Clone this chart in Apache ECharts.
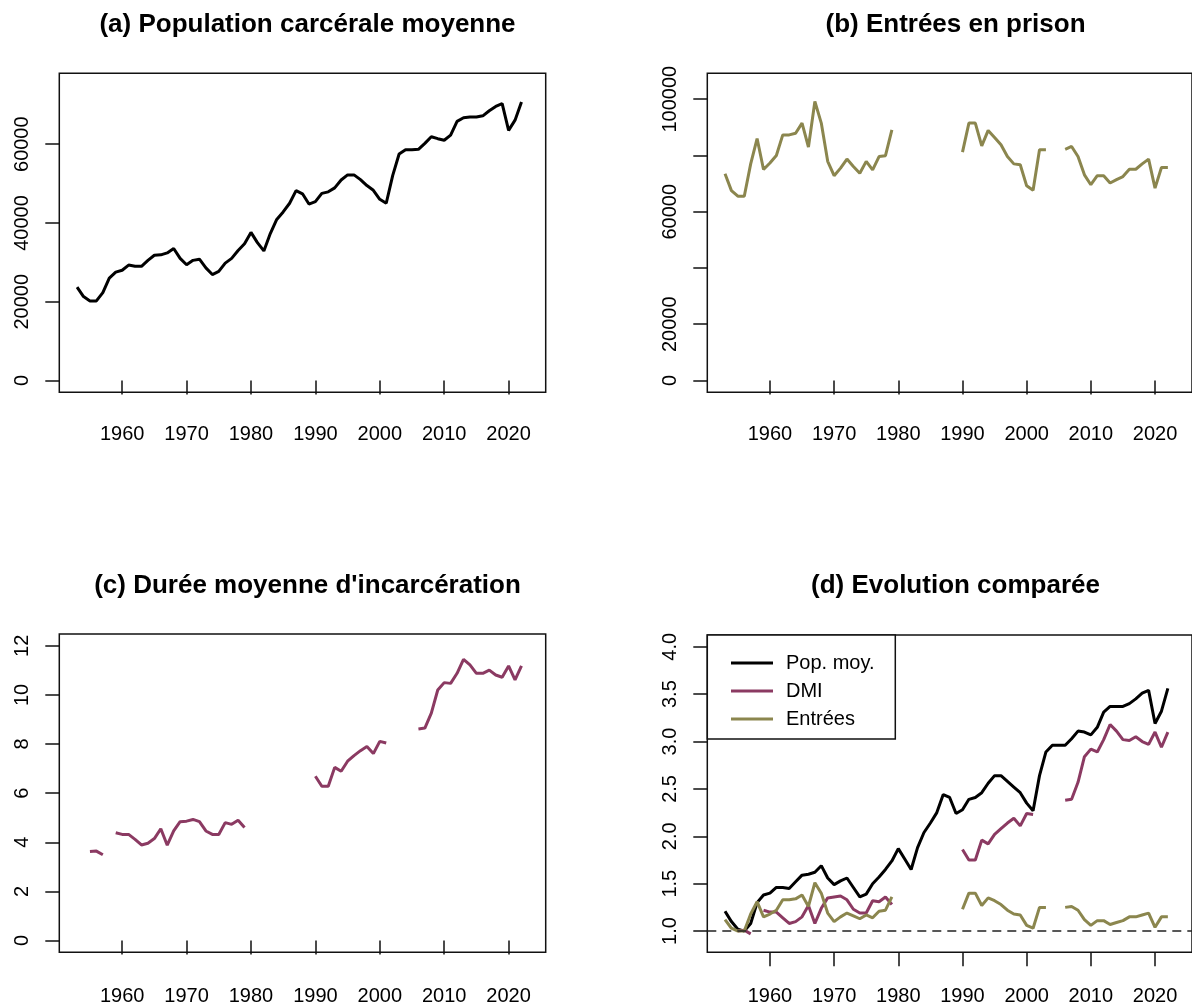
<!DOCTYPE html>
<html>
<head>
<meta charset="utf-8">
<script src="https://cdn.jsdelivr.net/npm/echarts@6/dist/echarts.min.js"></script>
<style>
  html, body { margin: 0; padding: 0; background: #fff; }
  #grafico { width: 1192px; height: 1007px; }
</style>
</head>
<body>
<div id="grafico"></div>
<script>
// annees 1953-2022
const years = [
  1953, 1954, 1955, 1956, 1957, 1958, 1959,
  1960, 1961, 1962, 1963, 1964, 1965, 1966, 1967, 1968, 1969,
  1970, 1971, 1972, 1973, 1974, 1975, 1976, 1977, 1978, 1979,
  1980, 1981, 1982, 1983, 1984, 1985, 1986, 1987, 1988, 1989,
  1990, 1991, 1992, 1993, 1994, 1995, 1996, 1997, 1998, 1999,
  2000, 2001, 2002, 2003, 2004, 2005, 2006, 2007, 2008, 2009,
  2010, 2011, 2012, 2013, 2014, 2015, 2016, 2017, 2018, 2019,
  2020, 2021, 2022
]

// (a) population carcerale moyenne
const popMoy = [
  23700, 21300, 20200, 20200, 22300, 26000, 27500,
  28000, 29300, 29000, 29000, 30500, 31800, 31900, 32400, 33500, 31000,
  29400, 30500, 30800, 28600, 26900, 27700, 29800, 31000, 33000, 34700,
  37600, 35000, 32900, 37300, 40900, 42800, 45000, 48200, 47400, 44800,
  45400, 47500, 47900, 48900, 50900, 52200, 52200, 51000, 49500, 48300,
  46000, 45000, 52000, 57500, 58600, 58600, 58700, 60200, 61900, 61400,
  61000, 62300, 65800, 66700, 66900, 66900, 67200, 68500, 69600, 70300,
  63500, 66100, 70700
]

// (b) entrees en prison
const entrees = [
  73500, 67500, 65500, 65500, 77000, 86000, 75000,
  77300, 80000, 87300, 87300, 87900, 91500, 83000, 99200, 91500, 77900,
  72800, 75500, 78700, 76100, 73700, 77900, 74900, 79600, 79900, 89100,
  null, null, null, null, null, null, null, null, null, null,
  81200, 91500, 91500, 83400, 88900, 86400, 83800, 79600, 77000, 76700,
  69200, 67600, 82000, 82000, null, null, 82200, 83200, 79600, 73100,
  69600, 72800, 72800, 70200, 71400, 72500, 75100, 75100, 77000, 78700,
  68400, 75700, 75700
]

// (c) duree moyenne d'incarceration (mois)
const dmi = [
  null, null, 3.62, 3.64, 3.49, null, 4.39,
  4.32, 4.32, 4.12, 3.89, 3.96, 4.15, 4.55, 3.88, 4.46, 4.84,
  4.86, 4.93, 4.84, 4.46, 4.32, 4.32, 4.80, 4.73, 4.90, 4.60,
  null, null, null, null, null, null, null, null, null, null,
  6.69, 6.28, 6.28, 7.05, 6.89, 7.30, 7.53, 7.73, 7.90, 7.61,
  8.11, 8.04, null, null, null, null, 8.61, 8.65, 9.26, 10.20,
  10.50, 10.47, 10.88, 11.45, 11.22, 10.88, 10.88, 11.01, 10.81, 10.72,
  11.18, 10.61, 11.18
]

// (d) indices
const popIdx = [
  1.21, 1.10, 1.02, 1.00, 1.08, 1.30, 1.38,
  1.40, 1.46, 1.46, 1.45, 1.52, 1.59, 1.60, 1.62, 1.69, 1.56,
  1.49, 1.53, 1.56, 1.46, 1.36, 1.39, 1.50, 1.57, 1.65, 1.74,
  1.87, 1.76, 1.65, 1.88, 2.04, 2.14, 2.25, 2.44, 2.41, 2.24,
  2.28, 2.39, 2.41, 2.46, 2.56, 2.64, 2.64, 2.58, 2.52, 2.46,
  2.35, 2.27, 2.64, 2.89, 2.96, 2.96, 2.96, 3.03, 3.11, 3.10,
  3.07, 3.15, 3.31, 3.37, 3.37, 3.37, 3.40, 3.45, 3.51, 3.54,
  3.19, 3.32, 3.56
]
const dmiIdx = [
  null, null, 1.00, 1.01, 0.97, null, 1.22,
  1.20, 1.20, 1.14, 1.08, 1.10, 1.15, 1.27, 1.08, 1.24, 1.35,
  1.36, 1.37, 1.33, 1.23, 1.19, 1.19, 1.32, 1.31, 1.36, 1.28,
  null, null, null, null, null, null, null, null, null, null,
  1.86, 1.75, 1.75, 1.96, 1.92, 2.02, 2.08, 2.14, 2.19, 2.11,
  2.24, 2.23, null, null, null, null, 2.38, 2.39, 2.57, 2.84,
  2.92, 2.89, 3.02, 3.18, 3.11, 3.02, 3.01, 3.05, 3.00, 2.97,
  3.10, 2.94, 3.10
]
const entIdx = [
  1.12, 1.03, 1.00, 1.00, 1.18, 1.31, 1.15,
  1.18, 1.22, 1.33, 1.33, 1.34, 1.38, 1.26, 1.51, 1.40, 1.19,
  1.10, 1.15, 1.19, 1.16, 1.13, 1.17, 1.14, 1.21, 1.22, 1.36,
  null, null, null, null, null, null, null, null, null, null,
  1.23, 1.40, 1.40, 1.27, 1.35, 1.32, 1.28, 1.22, 1.18, 1.17,
  1.06, 1.03, 1.25, 1.25, null, null, 1.25, 1.26, 1.22, 1.12,
  1.06, 1.11, 1.11, 1.07, 1.09, 1.11, 1.15, 1.15, 1.17, 1.19,
  1.04, 1.15, 1.15
]

const xTicks = [1960, 1970, 1980, 1990, 2000, 2010, 2020]
const titles = [
  '(a) Population carcérale moyenne',
  '(b) Entrées en prison',
  "(c) Durée moyenne d'incarcération",
  '(d) Evolution comparée'
]

const FONT = "'Liberation Sans', Arial, sans-serif"
const NOIR = '#000000'
const ROSE = '#8B3A62'
const KAKI = '#8B864E'

const pairs = arr => years.map((y, i) => [y, arr[i]])

// positions des 4 cadres (pixels)
const cadres = [
  { left: 59.3, top: 73.3, height: 319 },
  { left: 707.3, top: 73.3, height: 319 },
  { left: 59.3, top: 634, height: 318.3 },
  { left: 707.3, top: 635, height: 317.3 }
]

const xAxe = (i, marge) => ({
  type: 'value',
  gridIndex: i,
  min: 1950.24,
  max: 2025.76,
  axisLine: { show: false },
  splitLine: { show: false },
  axisTick: {
    show: true,
    length: 14,
    customValues: xTicks,
    lineStyle: { color: '#111', width: 1.5 }
  },
  axisLabel: {
    customValues: xTicks,
    margin: marge,
    fontSize: 20,
    fontFamily: FONT,
    color: NOIR,
    formatter: v => String(v)
  }
})

const yAxe = (i, min, max, ticks, labels, fmt) => ({
  type: 'value',
  gridIndex: i,
  min: min,
  max: max,
  axisLine: { show: false },
  splitLine: { show: false },
  axisTick: {
    show: true,
    length: 14,
    customValues: ticks,
    lineStyle: { color: '#111', width: 1.5 }
  },
  axisLabel: {
    customValues: labels,
    rotate: 90,
    margin: 27,
    fontSize: 20,
    fontFamily: FONT,
    color: NOIR,
    formatter: fmt || (v => String(v))
  }
})

const ligne = (name, i, data, color, extra) => Object.assign({
  name: name,
  type: 'line',
  xAxisIndex: i,
  yAxisIndex: i,
  data: data,
  showSymbol: false,
  connectNulls: false,
  color: color,
  lineStyle: { color: color, width: 3 },
  itemStyle: { color: color },
  emphasis: { disabled: true },
  silent: true
}, extra || {})

const myChart = echarts.init(document.getElementById('grafico'))

const option = {
  animation: false,
  backgroundColor: '#ffffff',
  title: titles.map((t, i) => ({
    text: t,
    left: i % 2 === 0 ? 302.5 : 950.5,
    top: i < 2 ? 7 : 568,
    textAlign: 'center',
    textStyle: { fontSize: 26, fontWeight: 'bold', fontFamily: FONT, color: NOIR }
  })),
  grid: cadres.map(c => ({
    left: c.left,
    top: c.top,
    width: 486.4,
    height: c.height,
    show: true,
    borderColor: '#111',
    borderWidth: 1.5,
    backgroundColor: 'transparent',
    containLabel: false
  })),
  xAxis: [xAxe(0, 32), xAxe(1, 32), xAxe(2, 34), xAxe(3, 34)],
  yAxis: [
    yAxe(0, -3000, 78000, [0, 20000, 40000, 60000], [0, 20000, 40000, 60000]),
    yAxe(1, -4200, 109200, [0, 20000, 40000, 60000, 80000, 100000], [0, 20000, 60000, 100000]),
    yAxe(2, -0.48, 12.48, [0, 2, 4, 6, 8, 10, 12], [0, 2, 4, 6, 8, 10, 12]),
    yAxe(3, 0.776, 4.124, [1, 1.5, 2, 2.5, 3, 3.5, 4], [1, 1.5, 2, 2.5, 3, 3.5, 4], v => v.toFixed(1))
  ],
  legend: {
    data: ['Pop. moy.', 'DMI', 'Entrées'],
    orient: 'vertical',
    left: 726,
    top: 648,
    icon: 'rect',
    itemWidth: 42,
    itemHeight: 3,
    itemGap: 8,
    selectedMode: false,
    textStyle: { fontSize: 20, fontFamily: FONT, color: NOIR, padding: [0, 0, 0, 8] }
  },
  graphic: [{
    type: 'rect',
    shape: { x: 707.3, y: 635, width: 188, height: 104 },
    style: { fill: '#fff', stroke: '#111', lineWidth: 1.5 },
    z: 3,
    silent: true
  }],
  series: [
    ligne('pop', 0, pairs(popMoy), NOIR),
    ligne('entrees', 1, pairs(entrees), KAKI),
    ligne('dmi', 2, pairs(dmi), ROSE),
    ligne('Pop. moy.', 3, pairs(popIdx), NOIR, {
      markLine: {
        silent: true,
        symbol: ['none', 'none'],
        label: { show: false },
        lineStyle: { color: '#222', width: 1.5, type: [9, 6] },
        data: [{ yAxis: 1 }]
      }
    }),
    ligne('DMI', 3, pairs(dmiIdx), ROSE),
    ligne('Entrées', 3, pairs(entIdx), KAKI)
  ]
}

myChart.setOption(option)
</script>
</body>
</html>
